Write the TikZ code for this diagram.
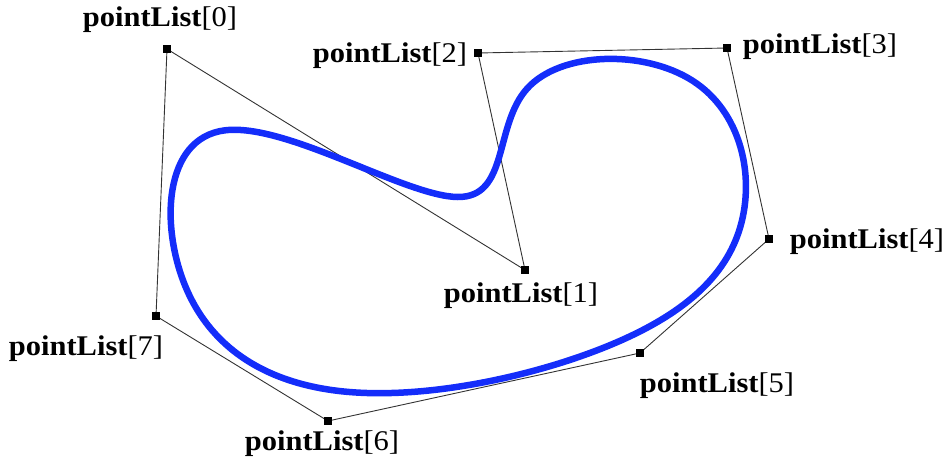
\documentclass[tikz,border=0pt]{standalone}
\usepackage{fontspec}
\setmainfont{Liberation Serif}
\usetikzlibrary{calc}
\definecolor{curveblue}{RGB}{20,45,250}
\tikzset{
  ctrlpt/.style={fill=black,draw=none,rectangle,minimum size=8pt,inner sep=0pt},
  poly/.style={draw=black!80,line width=0.9pt},
  spline/.style={draw=curveblue,line width=6.5pt,line cap=round,line join=round},
  lbl/.style={anchor=base,inner sep=0pt,font=\fontsize{28.5}{30}\selectfont,xscale=1.07}
}
\begin{document}
\begin{tikzpicture}[x=1pt,y=-1pt]
\useasboundingbox (0,0) rectangle (946,471);
% control points
\node[ctrlpt] (p0) at (167,49) {};
\node[ctrlpt] (p1) at (525,270) {};
\node[ctrlpt] (p2) at (478,53) {};
\node[ctrlpt] (p3) at (727,48) {};
\node[ctrlpt] (p4) at (769,239) {};
\node[ctrlpt] (p5) at (640,353) {};
\node[ctrlpt] (p6) at (328,421) {};
\node[ctrlpt] (p7) at (156,316) {};
% knots of the closed uniform cubic B-spline
\coordinate (k0) at ($0.166667*(p7.center)+0.666667*(p0.center)+0.166667*(p1.center)$);
\coordinate (k1) at ($0.166667*(p0.center)+0.666667*(p1.center)+0.166667*(p2.center)$);
\coordinate (k2) at ($0.166667*(p1.center)+0.666667*(p2.center)+0.166667*(p3.center)$);
\coordinate (k3) at ($0.166667*(p2.center)+0.666667*(p3.center)+0.166667*(p4.center)$);
\coordinate (k4) at ($0.166667*(p3.center)+0.666667*(p4.center)+0.166667*(p5.center)$);
\coordinate (k5) at ($0.166667*(p4.center)+0.666667*(p5.center)+0.166667*(p6.center)$);
\coordinate (k6) at ($0.166667*(p5.center)+0.666667*(p6.center)+0.166667*(p7.center)$);
\coordinate (k7) at ($0.166667*(p6.center)+0.666667*(p7.center)+0.166667*(p0.center)$);
% polygon
\draw[poly] (p0.center) -- (p1.center) -- (p2.center) -- (p3.center) -- (p4.center)
  -- (p5.center) -- (p6.center) -- (p7.center) -- cycle;
% spline
\draw[spline] (k0)
  .. controls ($(p0.center)!1/3!(p1.center)$) and ($(p0.center)!2/3!(p1.center)$) .. (k1)
  .. controls ($(p1.center)!1/3!(p2.center)$) and ($(p1.center)!2/3!(p2.center)$) .. (k2)
  .. controls ($(p2.center)!1/3!(p3.center)$) and ($(p2.center)!2/3!(p3.center)$) .. (k3)
  .. controls ($(p3.center)!1/3!(p4.center)$) and ($(p3.center)!2/3!(p4.center)$) .. (k4)
  .. controls ($(p4.center)!1/3!(p5.center)$) and ($(p4.center)!2/3!(p5.center)$) .. (k5)
  .. controls ($(p5.center)!1/3!(p6.center)$) and ($(p5.center)!2/3!(p6.center)$) .. (k6)
  .. controls ($(p6.center)!1/3!(p7.center)$) and ($(p6.center)!2/3!(p7.center)$) .. (k7)
  .. controls ($(p7.center)!1/3!(p0.center)$) and ($(p7.center)!2/3!(p0.center)$) .. (k0);
% redraw squares on top
\foreach \n in {p0,p1,p2,p3,p4,p5,p6,p7} \fill (\n.south west) rectangle (\n.north east);
% labels
\node[lbl] (l0) at (160,27) {\textbf{pointList}[0]};
\node[lbl] (l1) at (521,302) {\textbf{pointList}[1]};
\node[lbl] (l2) at (390,62) {\textbf{pointList}[2]};
\node[lbl] (l3) at (820,53) {\textbf{pointList}[3]};
\node[lbl] (l4) at (867,248) {\textbf{pointList}[4]};
\node[lbl] (l5) at (717,392) {\textbf{pointList}[5]};
\node[lbl] (l6) at (322,450) {\textbf{pointList}[6]};
\node[lbl] (l7) at (86,355) {\textbf{pointList}[7]};
\end{tikzpicture}
\end{document}
